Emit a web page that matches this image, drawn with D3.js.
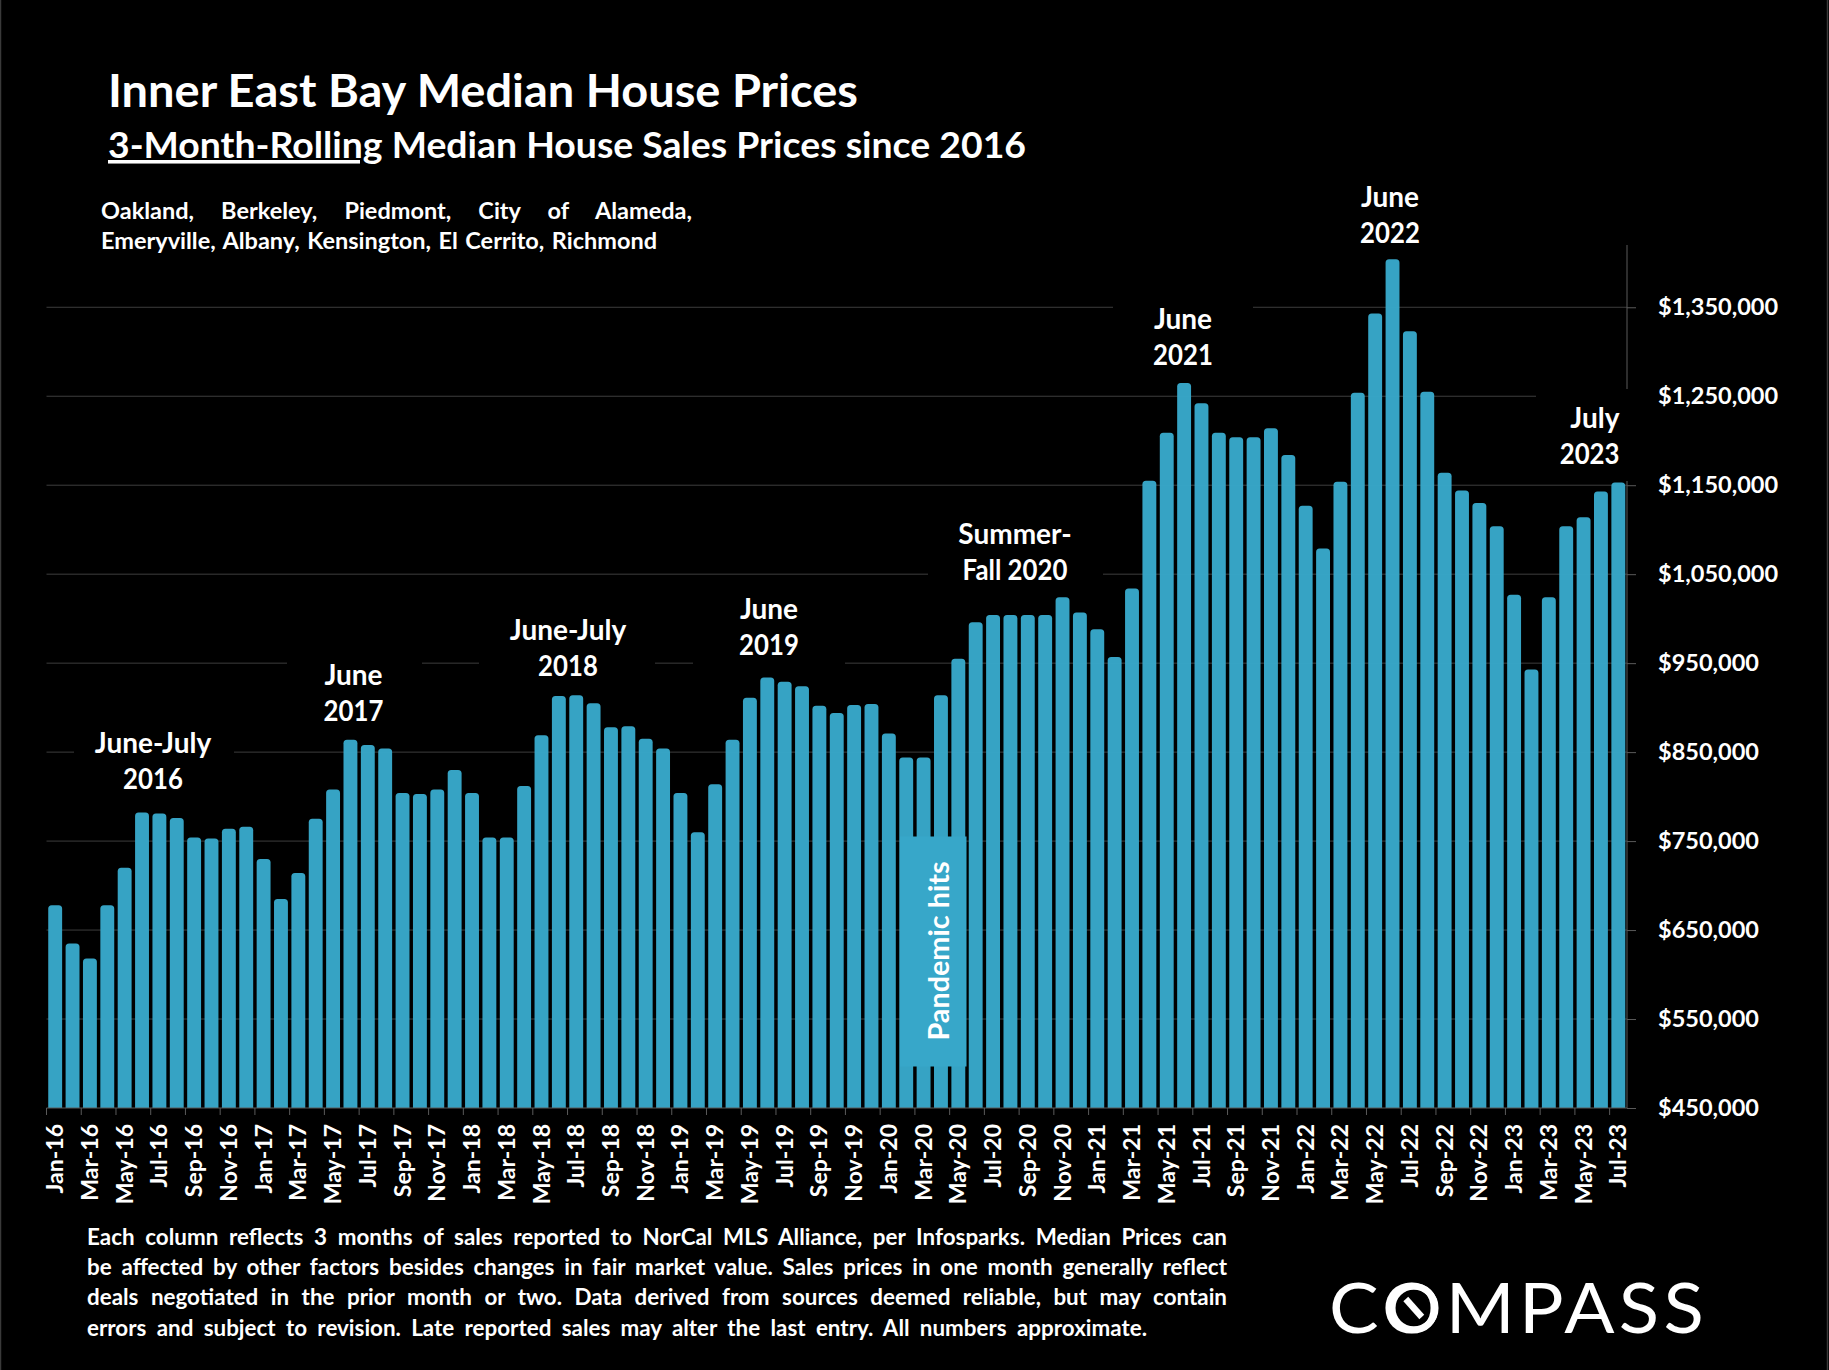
<!DOCTYPE html>
<html>
<head>
<meta charset="utf-8">
<script src="https://cdn.jsdelivr.net/npm/d3@7"></script>
<style>
  html, body { margin: 0; padding: 0; background: #000; }
  svg { display: block; }
  text { font-family: Lato, "Open Sans", sans-serif; font-weight: 700; fill: #fff; }
</style>
</head>
<body>
<svg id="chart"></svg>
<script>
const months = [
  "Jan-16","Feb-16","Mar-16","Apr-16","May-16","Jun-16","Jul-16","Aug-16","Sep-16","Oct-16","Nov-16","Dec-16",
  "Jan-17","Feb-17","Mar-17","Apr-17","May-17","Jun-17","Jul-17","Aug-17","Sep-17","Oct-17","Nov-17","Dec-17",
  "Jan-18","Feb-18","Mar-18","Apr-18","May-18","Jun-18","Jul-18","Aug-18","Sep-18","Oct-18","Nov-18","Dec-18",
  "Jan-19","Feb-19","Mar-19","Apr-19","May-19","Jun-19","Jul-19","Aug-19","Sep-19","Oct-19","Nov-19","Dec-19",
  "Jan-20","Feb-20","Mar-20","Apr-20","May-20","Jun-20","Jul-20","Aug-20","Sep-20","Oct-20","Nov-20","Dec-20",
  "Jan-21","Feb-21","Mar-21","Apr-21","May-21","Jun-21","Jul-21","Aug-21","Sep-21","Oct-21","Nov-21","Dec-21",
  "Jan-22","Feb-22","Mar-22","Apr-22","May-22","Jun-22","Jul-22","Aug-22","Sep-22","Oct-22","Nov-22","Dec-22",
  "Jan-23","Feb-23","Mar-23","Apr-23","May-23","Jun-23","Jul-23"
];

// in $000
const prices2016 = [678, 635, 618, 678, 720, 782, 781, 776, 754, 753, 764, 766];
const prices2017 = [730, 685, 714, 775, 808, 864, 858, 854, 804, 803, 808, 830];
const prices2018 = [804, 754, 754, 812, 869, 913, 914, 905, 878, 879, 865, 854];
const prices2019 = [804, 760, 814, 864, 911, 934, 929, 924, 902, 894, 903, 904];
const prices2020 = [871, 844, 844, 914, 955, 996, 1004, 1004, 1004, 1004, 1024, 1007];
const prices2021 = [988, 957, 1034, 1155, 1209, 1265, 1242, 1209, 1204, 1204, 1214, 1184];
const prices2022 = [1127, 1079, 1154, 1254, 1343, 1404, 1323, 1255, 1164, 1144, 1130, 1104];
const prices2023 = [1027, 943, 1024, 1104, 1114, 1143, 1153];

const yTicks = [450000, 550000, 650000, 750000, 850000, 950000, 1050000, 1150000, 1250000, 1350000];

const calloutText = [
  ["June-July", "2016"], ["June", "2017"], ["June-July", "2018"], ["June", "2019"],
  ["Summer-", "Fall 2020"], ["June", "2021"], ["June", "2022"], ["July", "2023"]
];
const titleText = "Inner East Bay Median House Prices";
const subtitleUnderlined = "3-Month-Rolling";
const subtitleRest = " Median House Sales Prices since 2016";
const citiesText = [
  "Oakland, Berkeley, Piedmont, City of Alameda,",
  "Emeryville, Albany, Kensington, El Cerrito, Richmond"
];
const noteText = [
  "Each column reflects 3 months of sales reported to NorCal MLS Alliance, per Infosparks. Median Prices can",
  "be affected by other factors besides changes in fair market value. Sales prices in one month generally reflect",
  "deals negotiated in the prior month or two. Data derived from sources deemed reliable, but may contain",
  "errors and subject to revision. Late reported sales may alter the last entry. All numbers approximate."
];

const width = 1829, height = 1370;
const barColor = "#37a7c9";
const gridColor = "#3d3d3d";
const values = [].concat(prices2016, prices2017, prices2018, prices2019, prices2020, prices2021, prices2022, prices2023)
  .map(d => d * 1000);

const svg = d3.select("#chart").attr("width", width).attr("height", height);

svg.append("rect").attr("width", width).attr("height", height).attr("fill", "#000");
svg.append("rect").attr("x", 0.5).attr("y", -2).attr("width", width - 2).attr("height", height + 4)
  .attr("fill", "none").attr("stroke", "#3a3a3a").attr("stroke-width", 1.5);

const x = d3.scaleBand().domain(months).range([46.5, 1627]).paddingInner(0.2).paddingOuter(0.1);
const y = d3.scaleLinear().domain([450000, 1420000]).range([1108, 245]);

// gridlines, then the y axis on the right
const yAxis = d3.axisRight(y)
  .tickValues(yTicks)
  .tickSize(9)
  .tickPadding(22)
  .tickFormat(d3.format("$,"));

svg.append("g").attr("class", "grid")
  .selectAll("line")
  .data(yTicks.slice(1))
  .join("line")
    .attr("x1", 46.5)
    .attr("x2", 1627)
    .attr("y1", d => y(d))
    .attr("y2", d => y(d))
    .attr("stroke", gridColor);

const yG = svg.append("g").attr("transform", "translate(1627,0)").call(yAxis);
yG.select(".domain").attr("stroke", "#5a5a5a").attr("d", "M0,245V1108");
yG.selectAll(".tick line").attr("stroke", "#5a5a5a");
yG.selectAll(".tick text").attr("font-size", 23.5).attr("dy", "0.3em");

// black boxes behind the callouts cut the gridlines, as in the original slide
const masks = [
  [74, 730, 160, 66], [287, 640, 135, 50], [479, 610, 176, 70], [693, 600, 152, 70],
  [928, 520, 175, 70], [1113, 290, 140, 80], [1536, 389, 110, 92]
];
svg.append("g").selectAll("rect").data(masks).join("rect")
  .attr("x", d => d[0]).attr("y", d => d[1]).attr("width", d => d[2]).attr("height", d => d[3])
  .attr("fill", "#000");

// columns, with the slightly rounded tops
const columnPath = (d, i) => {
  const bx = x(months[i]), w = x.bandwidth(), top = y(d), base = y(450000), r = 3.5;
  return `M${bx},${base}V${top + r}Q${bx},${top} ${bx + r},${top}H${bx + w - r}Q${bx + w},${top} ${bx + w},${top + r}V${base}Z`;
};
svg.append("g").selectAll("path")
  .data(values)
  .join("path")
    .attr("d", columnPath)
    .attr("fill", barColor)
    .attr("fill-opacity", 0.975);

// x axis: ticks on band edges every second month, labels rotated
const step = x.step();
const xAxis = d3.axisBottom(x)
  .tickValues(months.filter((d, i) => i % 2 === 0))
  .tickSize(0)
  .tickPadding(0);
const xG = svg.append("g").attr("transform", "translate(0,1108)").call(xAxis);
xG.select(".domain").attr("stroke", "#5a5a5a").attr("d", "M46.5,0H1627");
xG.selectAll(".tick").each(function () {
  const t = d3.select(this);
  t.select("line").attr("x1", -x.bandwidth() / 2 - step * 0.1).attr("x2", -x.bandwidth() / 2 - step * 0.1)
    .attr("y1", 0).attr("y2", 7).attr("stroke", "#5a5a5a");
  t.select("text")
    .attr("transform", "rotate(-90)")
    .attr("text-anchor", "end")
    .attr("x", -16)
    .attr("y", 0)
    .attr("dy", "0.35em")
    .attr("font-size", 23);
});

// pandemic marker
svg.append("rect").attr("x", 900).attr("y", 836.5).attr("width", 66.5).attr("height", 230).attr("fill", barColor);
svg.append("text")
  .attr("transform", "translate(949,951) rotate(-90)")
  .attr("text-anchor", "middle")
  .attr("font-size", 28.8)
  .text("Pandemic hits");

// callouts
const calloutPos = [
  [153, 753, "middle"], [353.5, 685, "middle"], [568, 639.5, "middle"], [769, 618.5, "middle"],
  [1015, 544, "middle"], [1183, 329, "middle"], [1390, 206.7, "middle"], [1619.5, 427.7, "end"]
];
calloutText.forEach((lines, i) => {
  const [cx, cy, anchor] = calloutPos[i];
  svg.append("g").selectAll("text").data(lines).join("text")
    .attr("x", cx)
    .attr("y", (d, j) => cy + j * 36.3)
    .attr("text-anchor", anchor)
    .attr("font-size", 28)
    .text(d => d)
    .each(function (d) {
      // Lato digits run wide, pull the year lines back in
      if (/\d/.test(d)) {
        const len = this.getComputedTextLength();
        d3.select(this).attr("textLength", len * 0.92).attr("lengthAdjust", "spacingAndGlyphs");
      }
    });
});

// titles
svg.append("text").attr("x", 108).attr("y", 107).attr("font-size", 45).text(titleText)
  .attr("textLength", 750).attr("lengthAdjust", "spacingAndGlyphs");

const sub = svg.append("text").attr("x", 108).attr("y", 158).attr("font-size", 35.5)
  .attr("textLength", 918).attr("lengthAdjust", "spacingAndGlyphs");
sub.append("tspan").attr("text-decoration", "underline").text(subtitleUnderlined);
sub.append("tspan").text(subtitleRest);

// stretch a line to a given right edge through word spacing only (the slide text is justified)
const justified = (txt, tx, ty, size, right) => {
  const el = svg.append("text").attr("x", tx).attr("y", ty).attr("font-size", size).text(txt);
  const gaps = txt.split(" ").length - 1;
  const extra = (right - tx - el.node().getComputedTextLength()) / gaps;
  el.attr("word-spacing", extra);
  return el;
};

justified(citiesText[0], 101, 219, 23.5, 692);
justified(citiesText[1], 101, 249, 23.5, 657);

noteText.forEach((line, i) => {
  justified(line, 87, 1244.5 + i * 30.4, 22.4, [1227, 1227, 1227, 1147][i]);
});

// logo: real text, with the ring and slash of the O drawn over it
const logo = svg.append("text")
  .attr("x", 1329)
  .attr("y", 1333)
  .attr("font-size", 69)
  .style("font-weight", 400)
  .style("letter-spacing", "4px")
  .attr("textLength", 379)
  .attr("lengthAdjust", "spacingAndGlyphs")
  .text("COMPASS");
const o = logo.node().getExtentOfChar(1);
const ox = o.x + o.width / 2, oy = 1308;
svg.append("circle").attr("cx", ox).attr("cy", oy).attr("r", 21.5)
  .attr("fill", "none").attr("stroke", "#fff").attr("stroke-width", 6.5);
svg.append("line")
  .attr("x1", ox - 8).attr("y1", oy - 9).attr("x2", ox + 8).attr("y2", oy + 9)
  .attr("stroke", "#fff").attr("stroke-width", 6.5);
</script>
</body>
</html>
